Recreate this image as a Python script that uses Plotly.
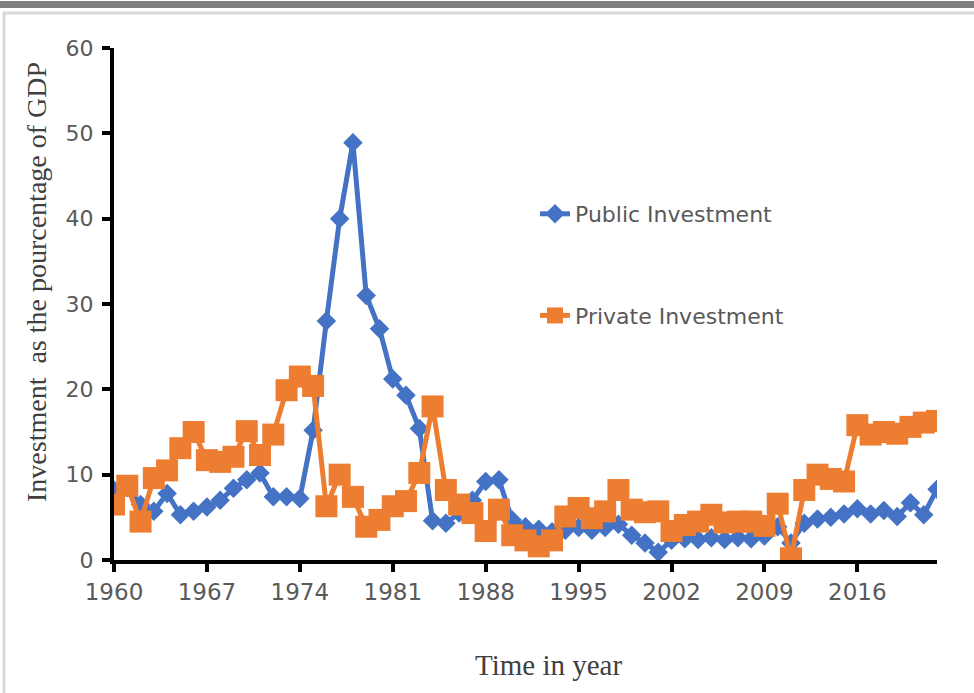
import plotly.graph_objects as go

years = list(range(1960, 2023))
public_investment = [
    8.2, 8.5, 6.5, 5.7, 7.8, 5.3, 5.7, 6.2, 7.0, 8.4,
    9.4, 10.2, 7.4, 7.4, 7.2, 15.2, 28.0, 40.0, 48.9, 31.0,
    27.1, 21.2, 19.3, 15.4, 4.6, 4.3, 5.5, 7.0, 9.2, 9.4,
    4.7, 3.9, 3.6, 3.3, 3.5, 3.8, 3.5, 3.8, 4.2, 2.9,
    2.0, 0.9, 2.3, 2.5, 2.4, 2.6, 2.4, 2.6, 2.5, 2.8,
    3.9, 2.0, 4.3, 4.8, 5.0, 5.4, 6.0, 5.4, 5.8, 5.1,
    6.7, 5.3, 8.3,
]
private_investment = [
    6.5, 8.7, 4.5, 9.6, 10.5, 13.1, 15.0, 11.7, 11.5, 12.1,
    15.1, 12.3, 14.7, 19.9, 21.5, 20.4, 6.3, 10.0, 7.4, 3.9,
    4.7, 6.3, 6.9, 10.2, 18.0, 8.2, 6.5, 5.5, 3.4, 5.9,
    2.9, 2.3, 1.6, 2.3, 5.1, 6.1, 4.9, 5.7, 8.2, 5.9,
    5.6, 5.7, 3.4, 4.1, 4.5, 5.3, 4.4, 4.5, 4.5, 4.0,
    6.6, 0.2, 8.2, 10.0, 9.5, 9.2, 15.8, 14.7, 15.0, 14.8,
    15.6, 16.1, 16.3,
]
x_tick_vals = [1960, 1967, 1974, 1981, 1988, 1995, 2002, 2009, 2016]
x_tick_text = [str(v) for v in x_tick_vals]
y_tick_vals = [0, 10, 20, 30, 40, 50, 60]

BLUE = "#4472C4"
ORANGE = "#ED7D31"
GRAY_TXT = "#595959"

W, H = 974, 693
L, R, T, B = 114, 37, 48, 133
PW, PH = W - L - R, H - T - B


def px(xp):
    return (xp - L) / PW


def py(yp):
    return (H - B - yp) / PH


fig = go.Figure()
fig.add_trace(go.Scatter(
    x=years, y=public_investment, name="Public Investment",
    mode="lines+markers", legendgroup="a",
    line=dict(color=BLUE, width=5),
    marker=dict(symbol="diamond", size=15, color=BLUE),
))
fig.add_trace(go.Scatter(
    x=years, y=private_investment, name="Private Investment",
    mode="lines+markers", legendgroup="b",
    line=dict(color=ORANGE, width=5),
    marker=dict(symbol="square", size=22, color=ORANGE),
))

fig.update_layout(
    width=W, height=H,
    margin=dict(l=L, r=R, t=T, b=B, autoexpand=False),
    paper_bgcolor="white", plot_bgcolor="white",
    showlegend=True,
    legend=dict(
        x=px(535), y=py(193), xanchor="left", yanchor="top",
        font=dict(family="DejaVu Sans", size=22, color=GRAY_TXT),
        bgcolor="rgba(0,0,0,0)", tracegroupgap=70,
    ),
    xaxis=dict(
        range=[1960, 2022], tickmode="array",
        tickvals=x_tick_vals, ticktext=x_tick_text,
        showgrid=False, zeroline=False,
        showline=True, linecolor="black", linewidth=4,
        ticks="outside", ticklen=8, tickwidth=4, tickcolor="black",
        tickfont=dict(family="DejaVu Sans", size=23, color=GRAY_TXT),
        automargin=False,
    ),
    yaxis=dict(
        range=[0, 60], tickmode="array", tickvals=y_tick_vals,
        showgrid=False, zeroline=False,
        showline=True, linecolor="black", linewidth=4,
        ticks="outside", ticklen=8, tickwidth=4, tickcolor="black",
        tickfont=dict(family="DejaVu Sans", size=22, color=GRAY_TXT),
        ticklabelstandoff=4,
        automargin=False,
    ),
    annotations=[
        dict(text="Investment  as the pourcentage of GDP", textangle=-90,
             xref="paper", yref="paper", x=px(36), y=py(282),
             showarrow=False, xanchor="center", yanchor="middle",
             font=dict(family="Liberation Serif", size=28, color="#404040")),
        dict(text="Time in year",
             xref="paper", yref="paper", x=px(548), y=py(665),
             showarrow=False, xanchor="center", yanchor="middle",
             font=dict(family="Liberation Serif", size=29, color="#404040")),
    ],
    shapes=[
        dict(type="rect", xref="paper", yref="paper",
             x0=px(0), x1=px(974), y0=py(8), y1=py(1),
             fillcolor="#808080", line=dict(width=0), layer="below"),
        dict(type="path", xref="paper", yref="paper",
             path=f"M {px(4)} {py(693)} L {px(4)} {py(13)} L {px(974)} {py(13)}",
             line=dict(color="#d9d9d9", width=3), layer="below"),
    ],
)

fig.write_html("out.html")
